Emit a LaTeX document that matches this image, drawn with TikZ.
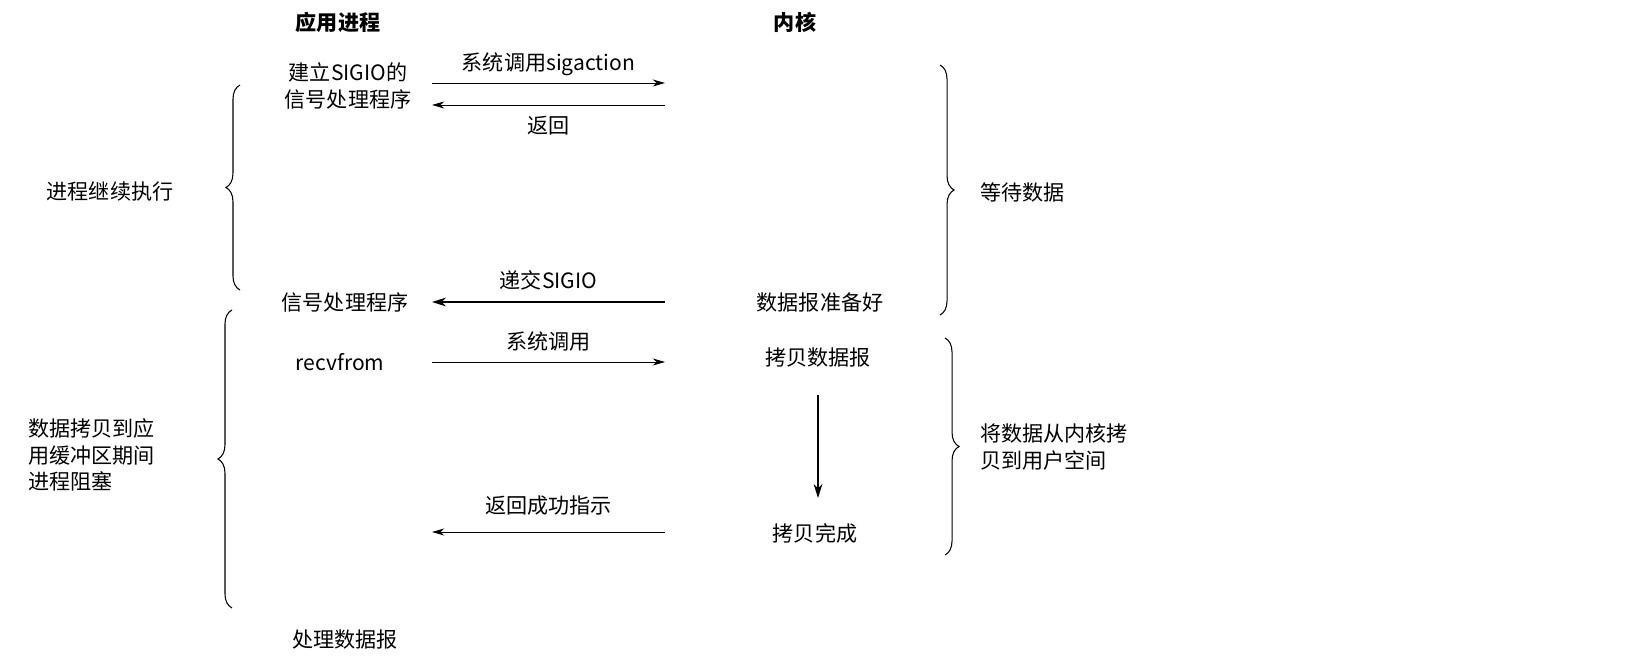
\documentclass[tikz,border=0pt]{standalone}
\usepackage{fontspec}
\setmainfont{Noto Sans CJK SC}
\usetikzlibrary{arrows.meta,decorations.pathreplacing}
\tikzset{
  lbl/.style={font=\fontsize{12}{15}\selectfont, inner sep=1pt},
  head/.style={lbl, font=\fontsize{12}{15}\selectfont\bfseries},
  call/.style={-{Stealth[length=7pt,width=4pt]}, line width=0.5pt},
  sig/.style={-{Stealth[length=8pt,width=5pt]}, line width=1pt},
  brc/.style={decorate, decoration={brace, amplitude=8pt}, line width=0.6pt}
}
\begin{document}
\begin{tikzpicture}[x=0.02cm,y=-0.02cm]
  \useasboundingbox (0,0) rectangle (1625,658);
  % headings
  \node[head] (app) at (338,22) {应用进程};
  \node[head] (ker) at (795,22) {内核};
  % setup of the handler
  \node[lbl, align=center] (setup) at (348,86) {建立SIGIO的\\信号处理程序};
  \coordinate (sa1) at (432,83);  \coordinate (sa2) at (665,83);
  \coordinate (ra1) at (665,105); \coordinate (ra2) at (432,105);
  \draw[call] (sa1) -- (sa2) node[lbl, midway, above=3pt] {系统调用sigaction};
  \draw[call] (ra1) -- (ra2) node[lbl, midway, below=5pt] {返回};
  % signal delivery
  \node[lbl] (handler) at (345,302) {信号处理程序};
  \node[lbl] (ready) at (820,302) {数据报准备好};
  \draw[sig] (ready.west -| 665,0) -- (handler.east -| 432,0)
    node[lbl, midway, above=5pt] {递交SIGIO};
  % recvfrom
  \node[lbl] (recv) at (340,362) {recvfrom};
  \node[lbl] (copy) at (818,358) {拷贝数据报};
  \draw[call] (432,362) -- (665,362) node[lbl, midway, above=5pt] {系统调用};
  \node[lbl] (done) at (815,533) {拷贝完成};
  \draw[sig] (818,395) -- (818,498);
  \draw[call] (665,532) -- (432,532) node[lbl, midway, above=8pt] {返回成功指示};
  \node[lbl] (proc) at (345,640) {处理数据报};
  % braces
  \draw[brc] (240,290) -- (240,85);
  \node[lbl] (cont) at (110,192) {进程继续执行};
  \draw[brc] (940,65) -- (940,315);
  \node[lbl, anchor=west] (wait) at (978,192) {等待数据};
  \draw[brc] (232,608) -- (232,310);
  \node[lbl, anchor=west, align=left] (block) at (26,455) {数据拷贝到应\\用缓冲区期间\\进程阻塞};
  \draw[brc] (945,338) -- (945,555);
  \node[lbl, anchor=west, align=left] (k2u) at (978,447) {将数据从内核拷\\贝到用户空间};
\end{tikzpicture}
\end{document}
